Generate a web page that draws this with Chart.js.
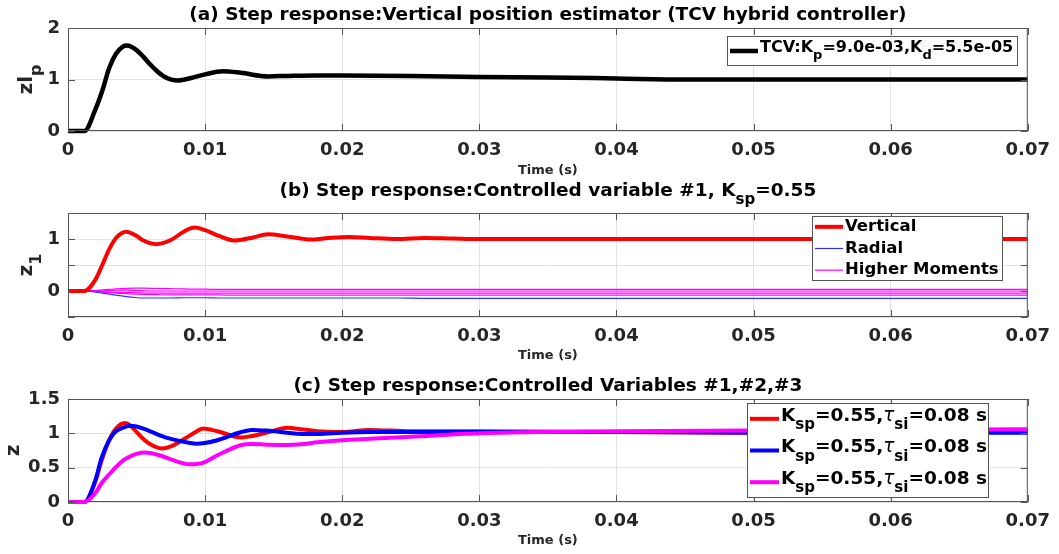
<!DOCTYPE html>
<html>
<head>
<meta charset="utf-8">
<script src="https://cdn.jsdelivr.net/npm/chart.js@4.4.1/dist/chart.umd.min.js"></script>
<style>
html, body { margin: 0; padding: 0; background: #fff; }
#wrap { position: relative; width: 1059px; height: 554px; }
.panel { position: absolute; left: 0; width: 1059px; }
</style>
</head>
<body>
<div id="wrap">
  <div class="panel" style="top:0;height:180px"><canvas id="chartA"></canvas></div>
  <div class="panel" style="top:180px;height:185px"><canvas id="chartB"></canvas></div>
  <div class="panel" style="top:365px;height:189px"><canvas id="chartC"></canvas></div>
</div>
<script>
// (a) vertical position estimator
const timeA = [0, 0.0012, 0.002, 0.0025, 0.003, 0.0035, 0.004, 0.0043, 0.005, 0.0055,
  0.006, 0.0065, 0.007, 0.008, 0.009, 0.010, 0.0113, 0.0126, 0.0146, 0.016,
  0.018, 0.020, 0.025, 0.030, 0.035, 0.040, 0.045, 0.050, 0.060, 0.070];
const zlp = [0, 0, 0.42, 0.78, 1.22, 1.5, 1.64, 1.66, 1.57, 1.44,
  1.29, 1.16, 1.06, 0.98, 1.03, 1.1, 1.16, 1.13, 1.06, 1.07,
  1.08, 1.08, 1.07, 1.05, 1.04, 1.02, 1.0, 1.0, 1.0, 1.0];

// (b) controlled variable #1
const timeB = [0, 0.0012, 0.002, 0.0025, 0.003, 0.0035, 0.00425, 0.005, 0.0055, 0.00644,
  0.0075, 0.0085, 0.00924, 0.010, 0.011, 0.01215, 0.0135, 0.01458, 0.016, 0.0177,
  0.019, 0.0205, 0.022, 0.024, 0.026, 0.028, 0.030, 0.040, 0.050, 0.060,
  0.070];
const vertical = [0, 0, 0.22, 0.5, 0.8, 1.02, 1.14, 1.06, 0.97, 0.90,
  0.98, 1.15, 1.22, 1.17, 1.06, 0.97, 1.03, 1.09, 1.05, 0.99,
  1.02, 1.04, 1.02, 1.0, 1.02, 1.01, 1.0, 1.0, 1.0, 1.0,
  1.0];
const radial = [0, 0, -0.02, -0.04, -0.06, -0.08, -0.11, -0.13, -0.135, -0.135,
  -0.135, -0.13, -0.13, -0.13, -0.135, -0.135, -0.135, -0.135, -0.135, -0.135,
  -0.135, -0.135, -0.135, -0.135, -0.14, -0.14, -0.14, -0.14, -0.14, -0.14,
  -0.14];
const moment1 = [0, 0, 0.01, 0.02, 0.03, 0.04, 0.05, 0.055, 0.055, 0.05,
  0.045, 0.04, 0.035, 0.035, 0.03, 0.03, 0.03, 0.03, 0.03, 0.03,
  0.03, 0.03, 0.03, 0.03, 0.03, 0.03, 0.03, 0.03, 0.03, 0.03,
  0.03];
const moment2 = [0, 0, 0, 0.005, 0.01, 0.015, 0.015, 0.01, 0.005, 0,
  0, 0, 0, 0, 0, 0, 0, 0, 0, 0,
  0, 0, 0, 0, 0, 0, 0, 0, 0, 0,
  0];
const moment3 = [0, 0, -0.005, -0.01, -0.02, -0.025, -0.03, -0.035, -0.04, -0.04,
  -0.04, -0.04, -0.04, -0.04, -0.04, -0.04, -0.04, -0.04, -0.04, -0.04,
  -0.04, -0.04, -0.04, -0.04, -0.04, -0.04, -0.04, -0.04, -0.04, -0.04,
  -0.04];
const moment4 = [0, 0, -0.01, -0.02, -0.03, -0.04, -0.05, -0.06, -0.065, -0.07,
  -0.075, -0.075, -0.075, -0.075, -0.075, -0.08, -0.08, -0.08, -0.08, -0.08,
  -0.08, -0.08, -0.08, -0.08, -0.08, -0.08, -0.08, -0.08, -0.08, -0.08,
  -0.08];

// (c) controlled variables #1,#2,#3
const timeC = [0, 0.0012, 0.002, 0.00243, 0.003, 0.0035, 0.00413, 0.0045, 0.005, 0.0056,
  0.006, 0.00685, 0.0075, 0.0089, 0.0094, 0.00984, 0.0109, 0.01264, 0.0134, 0.0145,
  0.016, 0.017, 0.0182, 0.020, 0.022, 0.025, 0.030, 0.040, 0.050, 0.060,
  0.070];
const cv1 = [0, 0, 0.3, 0.59, 0.9, 1.07, 1.15, 1.12, 1.02, 0.9,
  0.84, 0.78, 0.81, 0.97, 1.03, 1.07, 1.03, 0.94, 0.96, 1.01,
  1.08, 1.06, 1.03, 1.02, 1.05, 1.03, 1.03, 1.02, 1.01, 1.02,
  1.02];
const cv2 = [0, 0, 0.32, 0.63, 0.9, 1.03, 1.09, 1.11, 1.1, 1.06,
  1.03, 0.96, 0.92, 0.86, 0.85, 0.855, 0.9, 1.02, 1.05, 1.04,
  1.01, 0.99, 0.99, 1.01, 1.02, 1.02, 1.02, 1.02, 1.01, 1.01,
  1.01];
const cv3 = [0, 0, 0.13, 0.27, 0.4, 0.51, 0.62, 0.66, 0.7, 0.72,
  0.715, 0.67, 0.62, 0.55, 0.555, 0.57, 0.68, 0.83, 0.845, 0.835,
  0.83, 0.84, 0.87, 0.9, 0.92, 0.95, 1.0, 1.03, 1.04, 1.05,
  1.06];

const FAMILY = '"DejaVu Sans", sans-serif';
const INK = '#262626';
const GRID = '#e3e3e3';
const BOX = '#555555';

function pts(t, v) {
  return t.map((x, i) => ({ x: x, y: v[i] }));
}

// text runs: plain strings are bold, {sub:true} drops a subscript, {w:...} overrides the weight/style
function drawRuns(ctx, runs, x, y, size, align) {
  const parts = runs.map(r => typeof r === 'string' ? { t: r } : Object.assign({}, r));
  const fontOf = p => (p.w || 'bold') + ' ' + (p.sub ? Math.round(size * 0.8) : size) + 'px ' + FAMILY;
  let total = 0;
  parts.forEach(p => { ctx.font = fontOf(p); p.width = ctx.measureText(p.t).width; total += p.width; });
  let cx = align === 'center' ? x - total / 2 : x;
  ctx.textAlign = 'left';
  ctx.textBaseline = 'middle';
  parts.forEach(p => {
    ctx.font = fontOf(p);
    ctx.fillText(p.t, cx, y + (p.sub ? size * 0.5 : 0));
    cx += p.width;
  });
}

const panelDecor = {
  id: 'panelDecor',
  afterDraw(chart, args, opts) {
    const ctx = chart.ctx;
    const a = chart.chartArea;
    const xs = chart.scales.x, ys = chart.scales.y;
    ctx.save();

    // axes box with inward ticks
    ctx.strokeStyle = BOX;
    ctx.lineWidth = 1;
    ctx.strokeRect(a.left + 0.5, a.top + 0.5, a.right - a.left - 1, a.bottom - a.top - 1);
    ctx.beginPath();
    xs.ticks.forEach(t => {
      const px = Math.round(xs.getPixelForValue(t.value)) + 0.5;
      ctx.moveTo(px, a.bottom); ctx.lineTo(px, a.bottom - 7);
      ctx.moveTo(px, a.top); ctx.lineTo(px, a.top + 7);
    });
    ys.ticks.forEach(t => {
      const py = Math.round(ys.getPixelForValue(t.value)) + 0.5;
      ctx.moveTo(a.left, py); ctx.lineTo(a.left + 7, py);
      ctx.moveTo(a.right, py); ctx.lineTo(a.right - 7, py);
    });
    ctx.stroke();

    // title and y label
    ctx.fillStyle = '#000';
    drawRuns(ctx, opts.title, (a.left + a.right) / 2, opts.titleY, 18.5, 'center');
    ctx.save();
    ctx.translate(opts.yTitleX, (a.top + a.bottom) / 2);
    ctx.rotate(-Math.PI / 2);
    ctx.fillStyle = INK;
    drawRuns(ctx, opts.yTitle, 0, 0, 20, 'center');
    ctx.restore();

    // legend
    const lg = opts.legend;
    const items = chart.data.datasets.filter(d => d.legendText);
    ctx.fillStyle = '#fff';
    ctx.fillRect(lg.left, lg.top, lg.width, lg.height);
    ctx.strokeStyle = BOX;
    ctx.lineWidth = 1;
    ctx.strokeRect(lg.left + 0.5, lg.top + 0.5, lg.width - 1, lg.height - 1);
    items.forEach((d, i) => {
      const ry = lg.top + lg.height * (i + 0.5) / items.length;
      ctx.strokeStyle = d.borderColor;
      ctx.lineWidth = d.borderWidth;
      ctx.beginPath();
      ctx.moveTo(lg.left + 3, ry);
      ctx.lineTo(lg.left + 3 + lg.sample, ry);
      ctx.stroke();
      ctx.fillStyle = '#000';
      drawRuns(ctx, d.legendText, lg.left + 5 + lg.sample, ry - (lg.lift || 0), lg.size, 'left');
    });
    ctx.restore();
  }
};

function makeChart(id, datasets, cfg) {
  return new Chart(document.getElementById(id), {
    type: 'line',
    data: { datasets: datasets },
    plugins: [panelDecor],
    options: {
      responsive: true,
      maintainAspectRatio: false,
      animation: false,
      devicePixelRatio: 1,
      layout: { padding: { top: cfg.top, right: 31, left: 0, bottom: 0 } },
      elements: { point: { radius: 0 }, line: { cubicInterpolationMode: 'monotone' } },
      plugins: {
        legend: { display: false },
        tooltip: { enabled: false },
        panelDecor: cfg.decor
      },
      scales: {
        x: {
          type: 'linear', min: 0, max: 0.07,
          border: { display: false },
          grid: { color: GRID, drawTicks: false },
          ticks: {
            stepSize: 0.01, padding: 9, color: INK,
            font: { family: FAMILY, size: 18, weight: 'bold' },
            callback: v => v === 0 ? '0' : v.toFixed(2)
          },
          title: {
            display: true, text: 'Time (s)', color: INK,
            font: { family: FAMILY, size: 13, weight: 'bold' },
            padding: { top: 0, bottom: cfg.timePad }
          },
          afterFit: s => { s.height = cfg.xHeight; }
        },
        y: {
          min: cfg.yMin, max: cfg.yMax,
          border: { display: false },
          grid: { color: GRID, drawTicks: false },
          ticks: {
            stepSize: cfg.yStep, padding: 8, color: INK,
            font: { family: FAMILY, size: 18, weight: 'bold' },
            callback: cfg.yLabel
          },
          afterFit: s => { s.width = 68; }
        }
      }
    }
  });
}

makeChart('chartA', [
  { data: pts(timeA, zlp), borderColor: '#000000', borderWidth: 4.5, clip: 8,
    legendText: ['TCV:K', { t: 'p', sub: true }, '=9.0e-03,K', { t: 'd', sub: true }, '=5.5e-05'] }
], {
  top: 28, xHeight: 49, timePad: 2, yMin: 0, yMax: 2, yStep: 1,
  yLabel: v => String(v),
  decor: {
    title: ['(a) Step response:Vertical position estimator (TCV hybrid controller)'],
    titleY: 15, yTitle: ['zl', { t: 'p', sub: true }], yTitleX: 27,
    legend: { left: 727, top: 36, width: 291, height: 30, sample: 28, size: 16, lift: 3 }
  }
});

makeChart('chartB', [
  { data: pts(timeB, vertical), borderColor: '#ff0000', borderWidth: 4, clip: 8, legendText: ['Vertical'] },
  { data: pts(timeB, radial), borderColor: '#3030ff', borderWidth: 1.2, clip: 8, legendText: ['Radial'] },
  { data: pts(timeB, moment1), borderColor: '#ff00ff', borderWidth: 1.2, clip: 8, legendText: ['Higher Moments'] },
  { data: pts(timeB, moment2), borderColor: '#ff00ff', borderWidth: 1.2, clip: 8 },
  { data: pts(timeB, moment3), borderColor: '#ff00ff', borderWidth: 1.2, clip: 8 },
  { data: pts(timeB, moment4), borderColor: '#ff00ff', borderWidth: 1.2, clip: 8 }
], {
  top: 33, xHeight: 48, timePad: 2, yMin: -0.5, yMax: 1.5, yStep: 0.5,
  yLabel: v => (v === 0 || v === 1) ? String(v) : '',
  decor: {
    title: ['(b) Step response:Controlled variable #1, K', { t: 'sp', sub: true }, '=0.55'],
    titleY: 11, yTitle: ['z', { t: '1', sub: true }], yTitleX: 27,
    legend: { left: 812, top: 36, width: 191, height: 65, sample: 28, size: 16.5 }
  }
});

const cvLabel = ['K', { t: 'sp', sub: true }, '=0.55,', { t: 'τ', w: 'italic normal' }, { t: 'si', sub: true }, '=0.08 s'];
makeChart('chartC', [
  { data: pts(timeC, cv1), borderColor: '#ff0000', borderWidth: 4, clip: 8, order: 2, legendText: cvLabel },
  { data: pts(timeC, cv2), borderColor: '#0000ff', borderWidth: 4, clip: 8, order: 1, legendText: cvLabel },
  { data: pts(timeC, cv3), borderColor: '#ff00ff', borderWidth: 4, clip: 8, order: 0, legendText: cvLabel }
], {
  top: 34, xHeight: 52, timePad: 6, yMin: 0, yMax: 1.5, yStep: 0.5,
  yLabel: v => String(v),
  decor: {
    title: ['(c) Step response:Controlled Variables #1,#2,#3'],
    titleY: 21, yTitle: ['z'], yTitleX: 14,
    legend: { left: 747, top: 38, width: 242, height: 95, sample: 29, size: 18.5, lift: 3 }
  }
});
</script>
</body>
</html>
